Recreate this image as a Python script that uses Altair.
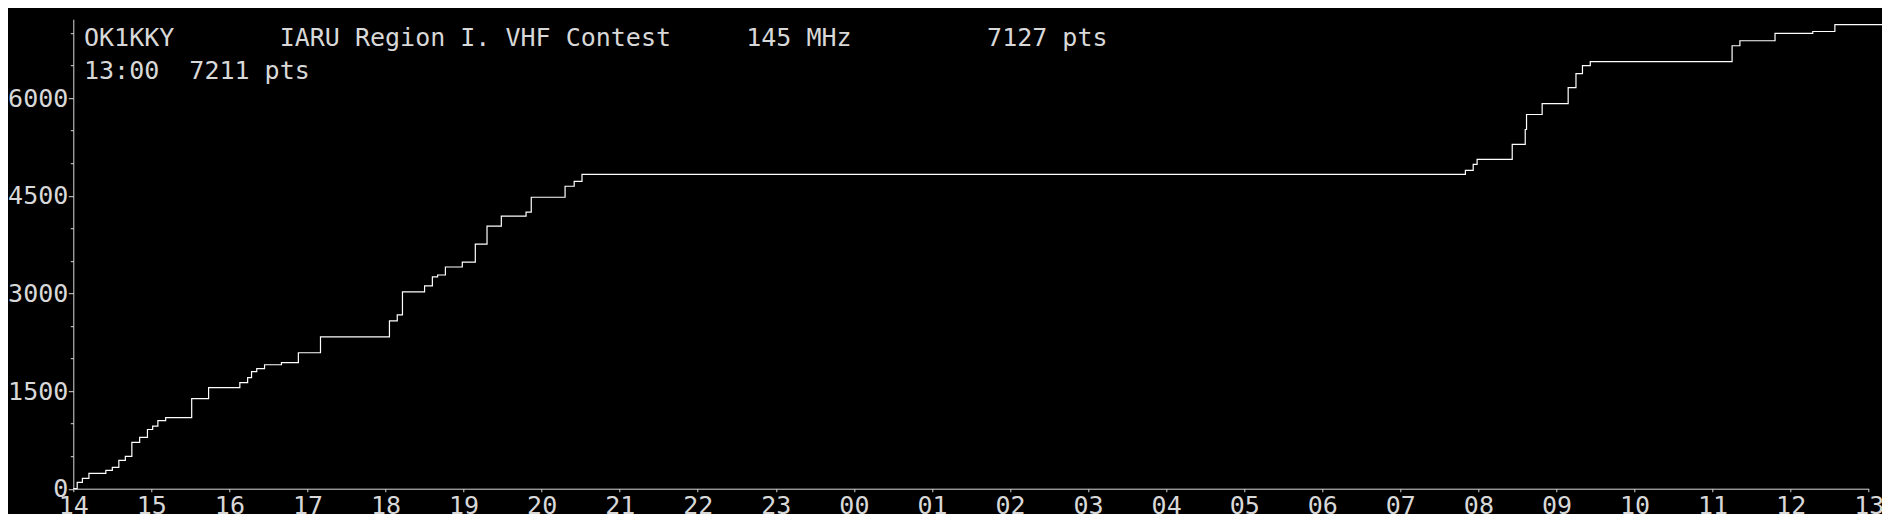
import altair as alt
import pandas as pd

# ---- data ----
times = ["14:00", "14:03", "14:07", "14:12", "14:25", "14:30", "14:35", "14:40", "14:45", "14:51",
         "14:57", "15:01", "15:05", "15:11", "15:31", "15:44", "16:08", "16:14", "16:17", "16:21",
         "16:27", "16:40", "16:53", "17:10", "18:03", "18:09", "18:13", "18:30", "18:36", "18:40",
         "18:46", "18:59", "19:09", "19:18", "19:29", "19:48", "19:52", "20:18", "20:25", "20:31",
         "07:50", "07:56", "07:59", "08:26", "08:36", "08:37", "08:49", "09:09", "09:15", "09:20",
         "09:26", "11:15", "11:21", "11:48", "12:17", "12:34", "13:59"]
points = [0, 98, 159, 236, 281, 327, 434, 496, 710, 787,
          909, 960, 1047, 1093, 1384, 1552, 1629, 1705, 1797, 1843,
          1904, 1935, 2088, 2333, 2578, 2670, 3022, 3114, 3252, 3282,
          3405, 3481, 3757, 4032, 4185, 4247, 4476, 4645, 4721, 4828,
          4890, 4982, 5058, 5288, 5517, 5747, 5915, 6160, 6375, 6497,
          6558, 6803, 6880, 6992, 7022, 7127, 7127]

hour_ticks = list(range(14, 38))          # 14 .. 13 (next day)
y_ticks = list(range(0, 7001, 500))
y_max = 7211

header_1 = ["OK1KKY", "IARU Region I. VHF Contest", "145 MHz", "7127 pts"]
header_1_gaps = [7, 5, 9]
header_2 = ["13:00", "7211 pts"]
header_2_gaps = [2]

NB = "\u00a0"


def join(parts, gaps):
    s = parts[0]
    for p, g in zip(parts[1:], gaps):
        s += NB * g + p
    return s.replace(" ", NB)


def to_hours(t):
    h, m = map(int, t.split(":"))
    v = h + m / 60
    return v + 24 if h < 14 else v


df = pd.DataFrame({"t": [to_hours(t) for t in times], "pts": points})

FONT = "DejaVu Sans Mono"
FG = "#d8d8d8"
TOP = 11.2
PLOT_H = 469.5
TOTAL_H = 506

line = alt.Chart(df).mark_line(interpolate="step-after", color="white", strokeWidth=1.2).encode(
    x=alt.X("t:Q",
            scale=alt.Scale(domain=[14, 37], nice=False, zero=False),
            axis=alt.Axis(values=hour_ticks, labelExpr="format(datum.value % 24, '02d')",
                          tickSize=3, labelBaseline="alphabetic", labelPadding=21.5,
                          title=None, grid=False, labelOverlap=False, labelFlush=False)),
    y=alt.Y("pts:Q",
            scale=alt.Scale(domain=[0, y_max], nice=False),
            axis=alt.Axis(values=y_ticks, format="d",
                          labelExpr="datum.value % 1500 === 0 ? datum.label : ''",
                          tickSize={"condition": {"test": "datum.value % 1500 === 0", "value": 5}, "value": 3},
                          labelPadding=0.5, title=None, grid=False, labelOverlap=False)),
)

text1 = alt.Chart(pd.DataFrame({"s": [join(header_1, header_1_gaps)]})).mark_text(
    align="left", baseline="alphabetic", font=FONT, fontSize=25, color=FG
).encode(x=alt.value(10.7), y=alt.value(45.7 - 8 - TOP), text="s:N")

text2 = alt.Chart(pd.DataFrame({"s": [join(header_2, header_2_gaps)]})).mark_text(
    align="left", baseline="alphabetic", font=FONT, fontSize=25, color=FG
).encode(x=alt.value(10.7), y=alt.value(79 - 8 - TOP), text="s:N")

chart = alt.layer(line, text1, text2).properties(
    width=1795.4, height=PLOT_H,
    autosize=alt.AutoSizeParams(type="none"),
    padding={"left": 65.3, "top": TOP, "right": 13.3, "bottom": TOTAL_H - TOP - PLOT_H},
    background="black",
).configure_view(stroke=None).configure_axis(
    labelFont=FONT, labelFontSize=25, labelColor=FG,
    domainColor=FG, tickColor=FG, domainWidth=1, tickWidth=1,
)

chart.save("out.html", embed_options={"renderer": "svg", "actions": False})
